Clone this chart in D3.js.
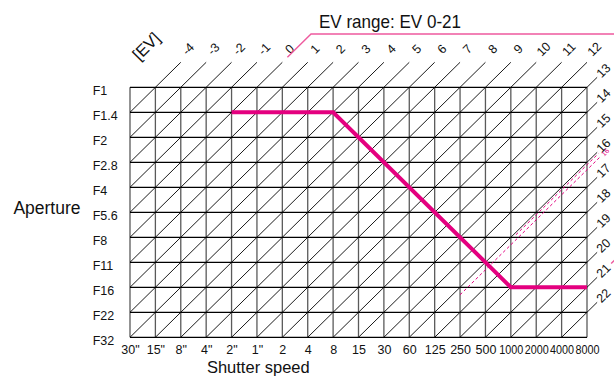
<!DOCTYPE html>
<html><head><meta charset="utf-8">
<script src="https://cdn.jsdelivr.net/npm/d3@7"></script>
<style>body{margin:0;background:#fff}svg{display:block}text{font-family:"Liberation Sans",Arial,Helvetica,sans-serif;fill:#111}</style>
</head><body>
<script>
// ---- data ----
const shutterLabels = ['30"','15"','8"','4"','2"','1"','2','4','8','15','30','60','125','250','500','1000','2000','4000','8000'];
const apertureLabels = ['F1','F1.4','F2','F2.8','F4','F5.6','F8','F11','F16','F22','F32'];
const evLines = [-4,-3,-2,-1,0,1,2,3,4,5,6,7,8,9,10,11,12,13,14,15,16,17,18,19,20,21,22];
const evAtOrigin = -5; // EV at F1, 30"
const programShutter = ['2"','8','1000','8000'];
const programAperture = ['F1.4','F1.4','F16','F16'];
const evRange = [0, 21];
const evRangeLabel = 'EV range: EV 0-21';
const dashedEV = [16.3, 16.1];
const dashedFromIdx = [13, 15.2];
const dashedToIdx = [18.55, 18.45];
const dashedLabel = '16';

// ---- drawing ----
const W = 614, H = 377;
const svg = d3.select('body').append('svg').attr('width', W).attr('height', H);
const nC = shutterLabels.length - 1, nR = apertureLabels.length - 1;
const gx = d3.scaleLinear().domain([0, nC]).range([130, 587]);
const gy = d3.scaleLinear().domain([0, nR]).range([87.3, 337.3]);
const xP = d3.scalePoint().domain(shutterLabels).range(gx.range());
const yP = d3.scalePoint().domain(apertureLabels).range(gy.range());
const MAG = '#e4007f';

// grid
const grid = svg.append('g');
grid.selectAll('line.v').data(shutterLabels).join('line')
  .attr('x1', d => xP(d)).attr('x2', d => xP(d))
  .attr('y1', gy(0)).attr('y2', gy(nR))
  .attr('stroke', '#5a5a5a').attr('stroke-width', 1.3);
grid.selectAll('line.h').data(apertureLabels).join('line')
  .attr('x1', gx(0)).attr('x2', gx(nC))
  .attr('y1', d => yP(d)).attr('y2', d => yP(d))
  .attr('stroke', '#000').attr('stroke-width', 1.3);

// EV diagonals
function evSeg(e) {
  const k = e - evAtOrigin;
  const lo = k <= nR ? [0, k] : [k - nR, nR];
  let hi, ext, side;
  if (k < nC) { hi = [k, 0]; ext = [k + 1, -1]; side = 'top'; }
  else { hi = [nC, k - nC]; ext = [nC + 0.4, k - nC - 0.4]; side = 'right'; }
  return {e, lo, hi, ext, side};
}
const segs = evLines.map(evSeg);
svg.append('g').selectAll('line').data(segs).join('line')
  .attr('x1', d => gx(d.lo[0])).attr('y1', d => gy(d.lo[1]))
  .attr('x2', d => gx(d.ext[0])).attr('y2', d => gy(d.ext[1]))
  .attr('stroke', '#000').attr('stroke-width', 0.9);
svg.append('g').selectAll('text').data(segs).join('text')
  .attr('transform', d => {
    const x = gx(d.ext[0]) + (d.side === 'top' ? 7.5 : 6.5);
    const y = gy(d.ext[1]) + (d.side === 'top' ? -13 : -6.5);
    return `translate(${x},${y}) rotate(-45)`;
  })
  .attr('text-anchor', 'middle').attr('dominant-baseline', 'central')
  .style('font-size', '12.5px').text(d => d.e);

svg.append('text').attr('transform', 'translate(146,46) rotate(-45)')
  .attr('text-anchor', 'middle').attr('dominant-baseline', 'central')
  .style('font-size', '16.5px').text('[EV]');

// dashed lines
svg.append('g').selectAll('line').data(dashedEV).join('line')
  .attr('x1', (e, i) => gx(dashedFromIdx[i])).attr('y1', (e, i) => gy(e - evAtOrigin - dashedFromIdx[i]))
  .attr('x2', (e, i) => gx(dashedToIdx[i])).attr('y2', (e, i) => gy(e - evAtOrigin - dashedToIdx[i]))
  .attr('stroke', MAG).attr('stroke-width', 1).attr('stroke-dasharray', '3,2.5');
svg.append('text')
  .attr('transform', `translate(${gx(dashedToIdx[0]) + 6},${gy(dashedEV[0] - evAtOrigin - dashedToIdx[0]) - 2}) rotate(-45)`)
  .attr('text-anchor', 'middle').style('font-size', '7px').style('fill', MAG).text(dashedLabel);

// EV range bracket
const kA = evRange[0] - evAtOrigin, kB = evRange[1] - evAtOrigin;
const br = d3.line().x(d => gx(d[0])).y(d => gy(d[1]));
svg.append('path').attr('d', br([[kA + 1.2, -1.2], [kA + 2.13, -2.13], [nC + 1.5, -2.13]]))
  .attr('fill', 'none').attr('stroke', '#ee5a9e').attr('stroke-width', 1.4);
svg.append('path').attr('d', br([[nC + 0.95, kB - nC - 0.95], [nC + 1.5, kB - nC - 1.5]]))
  .attr('fill', 'none').attr('stroke', '#ee5a9e').attr('stroke-width', 1.4);
svg.append('text').attr('x', 319).attr('y', 27.5).attr('textLength', 142).attr('lengthAdjust', 'spacingAndGlyphs')
  .style('font-size', '19px').text(evRangeLabel);

// program line
const pl = d3.line().x((d, i) => xP(d)).y((d, i) => yP(programAperture[i]));
svg.append('path').attr('d', pl(programShutter))
  .attr('fill', 'none').attr('stroke', MAG).attr('stroke-width', 4).attr('stroke-linejoin', 'miter');

// axes
const ax = svg.append('g').attr('transform', `translate(0,${gy(nR)})`)
  .call(d3.axisBottom(xP).tickSize(0).tickPadding(8));
ax.select('.domain').remove();
ax.selectAll('text').style('font-size', '12.5px').attr('fill', '#111')
  .each(function(d) { if (d.length >= 4) d3.select(this).attr('textLength', 24).attr('lengthAdjust', 'spacingAndGlyphs'); });

const ay = svg.append('g').attr('transform', `translate(${gx(0)},0)`)
  .call(d3.axisLeft(yP).tickSize(0));
ay.select('.domain').remove();
ay.selectAll('text').style('font-size', '12.5px').attr('fill', '#111')
  .attr('text-anchor', 'start').attr('x', -37.3).attr('dy', '0.55em');

svg.append('text').attr('x', 80.5).attr('y', 214.3).attr('text-anchor', 'end')
  .style('font-size', '17.5px').text('Aperture');
svg.append('text').attr('x', 258.3).attr('y', 373.3).attr('text-anchor', 'middle')
  .style('font-size', '16.5px').text('Shutter speed');
</script>
</body></html>
